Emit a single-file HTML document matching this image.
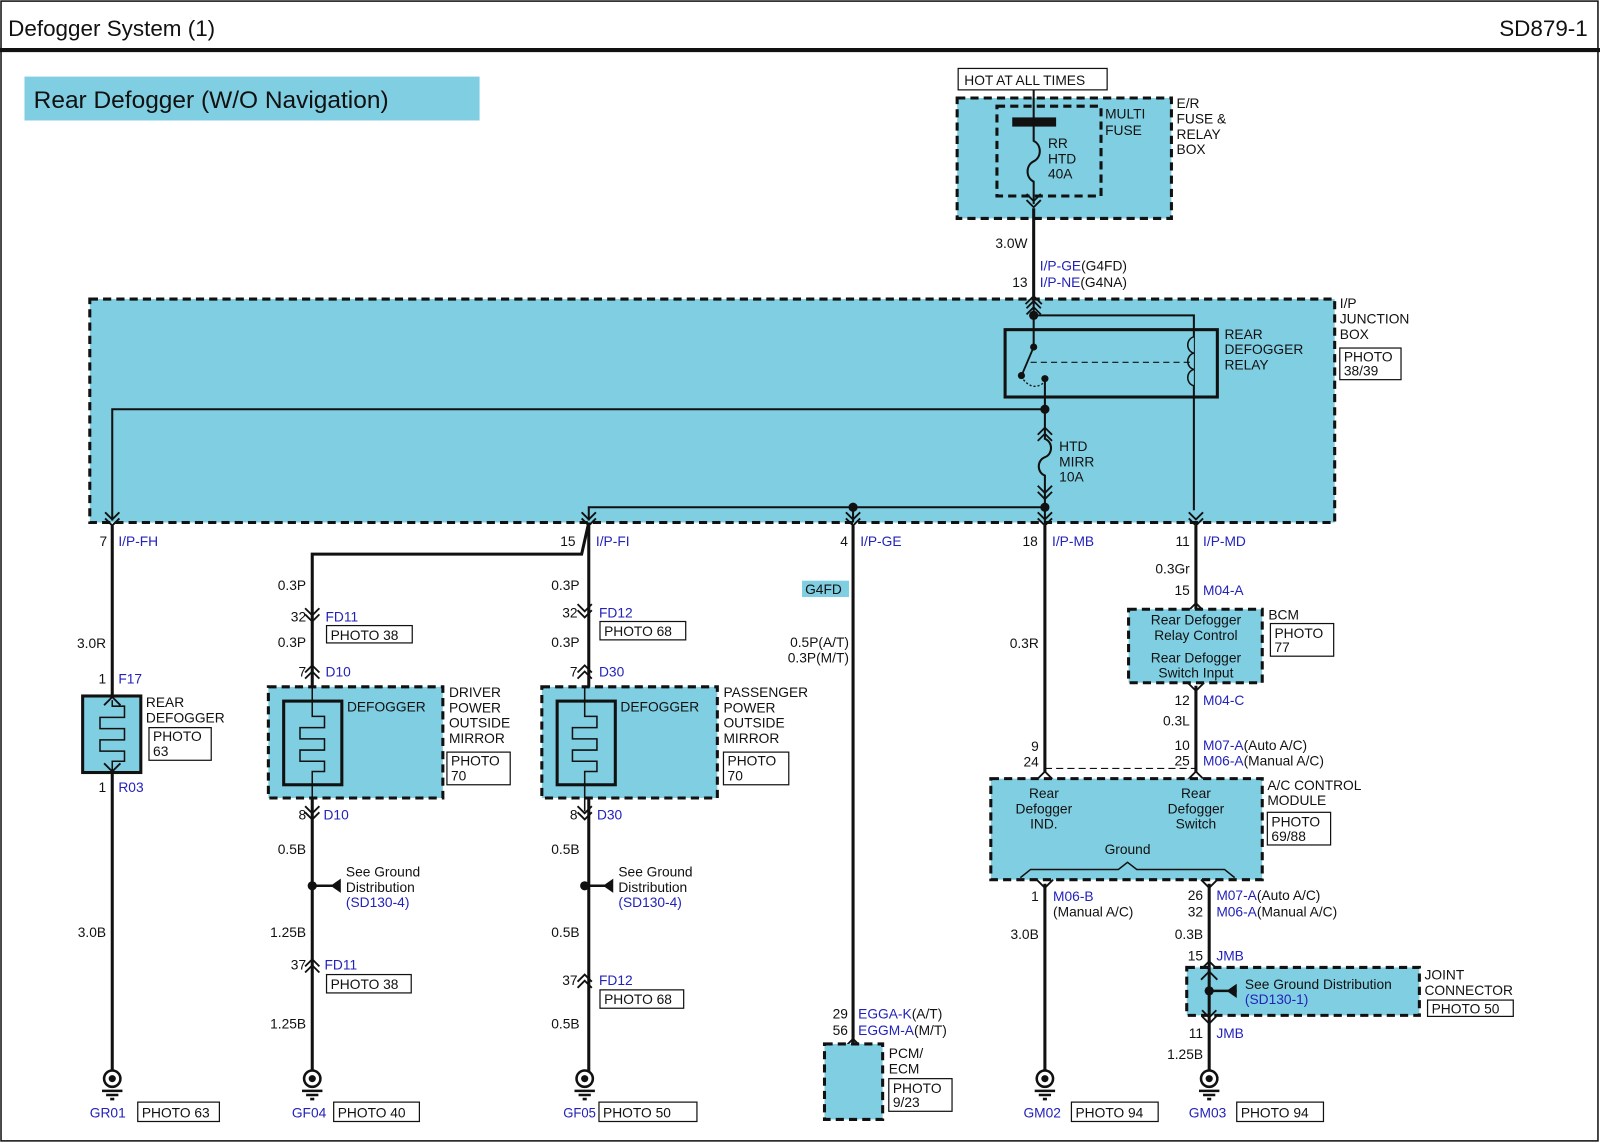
<!DOCTYPE html>
<html><head><meta charset="utf-8"><style>
html,body{margin:0;padding:0;background:#fff}
svg{display:block}
text{font-family:"Liberation Sans",sans-serif;font-size:13.5px;fill:#111}
.b{fill:#2222bb}
.w{stroke:#111;stroke-width:3;fill:none}
.t{stroke:#111;stroke-width:1.5;fill:none}
.dash{stroke:#111;stroke-width:3;stroke-dasharray:8 5;fill:#80cee1}
.box{stroke:#111;stroke-width:1.2;fill:#fff}
.e{text-anchor:end}
.m{text-anchor:middle}
</style></head><body>
<svg width="1600" height="1143" viewBox="0 0 1568 1120" xmlns="http://www.w3.org/2000/svg">
<defs>
<g id="dd"><path d="M-7,-8 L0,-1 L7,-8 M-7,-2 L0,5 L7,-2" stroke="#111" stroke-width="1.8" fill="none"/></g>
<g id="uu"><path d="M-7,8 L0,1 L7,8 M-7,2 L0,-5 L7,2" stroke="#111" stroke-width="1.8" fill="none"/></g>
<g id="su"><path d="M-8,6 L0,-2 L8,6" stroke="#111" stroke-width="1.8" fill="none"/></g>
<g id="sd"><path d="M-8,-6 L0,2 L8,-6" stroke="#111" stroke-width="1.8" fill="none"/></g>
<g id="gnd"><circle cx="0" cy="0" r="8" fill="#fff" stroke="#111" stroke-width="2.5"/><circle cx="0" cy="0" r="3.5" fill="#111"/><path d="M-10,12 H10 M-6,16 H6 M-2,20 H2" stroke="#111" stroke-width="2.5"/></g>
</defs>
<rect x="0" y="0" width="1568" height="1120" fill="#fff"/>
<rect x="1" y="1" width="1565" height="1117" fill="none" stroke="#111" stroke-width="1.5"/>
<text x="8" y="35" style="font-size:22px">Defogger System (1)</text>
<text x="1556" y="35" class="e" style="font-size:22px">SD879-1</text>
<line x1="0" y1="49" x2="1568" y2="49" stroke="#111" stroke-width="4"/>
<rect x="24" y="75" width="446" height="43" fill="#80cee1"/>
<text x="33" y="106" style="font-size:24px">Rear Defogger (W/O Navigation)</text>

<!-- E/R box -->
<rect x="939" y="67" width="146" height="21" class="box"/>
<text x="945" y="83">HOT AT ALL TIMES</text>
<rect x="938" y="96" width="210" height="118" class="dash"/>
<rect x="977" y="104" width="102" height="88" class="dash" style="fill:none"/>
<text x="1083" y="116">MULTI</text><text x="1083" y="132">FUSE</text>
<text x="1153" y="106">E/R</text><text x="1153" y="121">FUSE &amp;</text><text x="1153" y="136">RELAY</text><text x="1153" y="151">BOX</text>
<rect x="992" y="115" width="43" height="9" fill="#111"/>
<path class="t" d="M1013,88 V138 c8,4 8,16 0,20 c-8,4 -8,16 0,20 V200" style="stroke-width:2"/>
<text x="1027" y="145">RR</text><text x="1027" y="160">HTD</text><text x="1027" y="175">40A</text>
<use href="#dd" x="1013" y="198"/>
<line x1="1013" y1="204" x2="1013" y2="290" class="w"/>
<text x="1007" y="243" class="e">3.0W</text>
<text x="1019" y="265"><tspan class="b">I/P-GE</tspan>(G4FD)</text>
<text x="1007" y="281" class="e">13</text>
<text x="1019" y="281"><tspan class="b">I/P-NE</tspan>(G4NA)</text>

<!-- I/P junction box -->
<rect x="88" y="293" width="1220" height="219" class="dash"/>
<text x="1313" y="302">I/P</text><text x="1313" y="317">JUNCTION</text><text x="1313" y="332">BOX</text>
<rect x="1313" y="341" width="60" height="31" class="box"/>
<text x="1317" y="354">PHOTO</text><text x="1317" y="368">38/39</text>
<use href="#su" x="1013" y="292"/><use href="#uu" x="1013" y="300"/>
<line x1="1013" y1="296" x2="1013" y2="340" class="t" style="stroke-width:2"/>
<path class="t" d="M1013,309 H1170 V500" style="stroke-width:2"/>
<circle cx="1013" cy="309" r="4.5" fill="#111"/>
<rect x="985" y="323" width="208" height="66" fill="none" stroke="#111" stroke-width="3"/>
<text x="1200" y="332">REAR</text><text x="1200" y="347">DEFOGGER</text><text x="1200" y="362">RELAY</text>
<path d="M1170,330 c-8,2 -8,14 0,16 c-8,2 -8,14 0,16 c-8,2 -8,14 0,16" fill="#80cee1" stroke="#111" stroke-width="1.5"/>
<circle cx="1013" cy="340" r="3.5" fill="#111"/>
<line x1="1013" y1="340" x2="1002" y2="366" stroke="#111" stroke-width="1.8"/>
<circle cx="1001" cy="368" r="3.5" fill="#111"/><circle cx="1024" cy="371" r="3.5" fill="#111"/>
<path d="M1003,372 q10,12 21,2" fill="none" stroke="#111" stroke-width="1.3" stroke-dasharray="2 2"/>
<line x1="1010" y1="355" x2="1166" y2="355" stroke="#111" stroke-width="1.2" stroke-dasharray="6 4"/>
<path class="t" d="M1024,371 V430 c8,3 8,15 0,18 c-8,3 -8,15 0,18 V512" style="stroke-width:2"/>
<use href="#uu" x="1024" y="424"/><use href="#dd" x="1024" y="484"/>
<text x="1038" y="442">HTD</text><text x="1038" y="457">MIRR</text><text x="1038" y="472">10A</text>
<path class="t" d="M110,510 V401 H1024" style="stroke-width:2"/>
<circle cx="1024" cy="401" r="4.5" fill="#111"/>
<path class="t" d="M577,510 V497 H1024" style="stroke-width:2"/>
<circle cx="1024" cy="497" r="4.5" fill="#111"/>
<circle cx="836" cy="497" r="4.5" fill="#111"/>
<line x1="836" y1="497" x2="836" y2="512" class="t" style="stroke-width:2"/>

<!-- bottom connectors of J/B -->
<use href="#dd" x="110" y="510"/><use href="#dd" x="577" y="510"/><use href="#dd" x="836" y="510"/><use href="#dd" x="1024" y="510"/><use href="#dd" x="1172" y="510"/>
<text x="105" y="535" class="e">7</text><text x="116" y="535" class="b">I/P-FH</text>
<text x="564" y="535" class="e">15</text><text x="584" y="535" class="b">I/P-FI</text>
<text x="831" y="535" class="e">4</text><text x="843" y="535" class="b">I/P-GE</text>
<text x="1017" y="535" class="e">18</text><text x="1031" y="535" class="b">I/P-MB</text>
<text x="1166" y="535" class="e">11</text><text x="1179" y="535" class="b">I/P-MD</text>

<!-- column 1 -->
<line x1="110" y1="515" x2="110" y2="1050" class="w"/>
<text x="104" y="635" class="e">3.0R</text>
<text x="104" y="670" class="e">1</text><text x="116" y="670" class="b">F17</text>
<rect x="81" y="682" width="57" height="75" fill="#80cee1" stroke="#111" stroke-width="3"/>
<use href="#su" x="110" y="685"/><use href="#sd" x="110" y="754"/>
<path d="M110,686 V692 H122 V703 H98 V714 H122 V725 H98 V736 H122 V746 H110 V755" fill="none" stroke="#111" stroke-width="1.5"/>
<text x="143" y="693">REAR</text><text x="143" y="708">DEFOGGER</text>
<rect x="146" y="713" width="61" height="32" class="box"/><text x="150" y="726">PHOTO</text><text x="150" y="741">63</text>
<text x="104" y="776" class="e">1</text><text x="116" y="776" class="b">R03</text>
<text x="104" y="918" class="e">3.0B</text>
<use href="#gnd" x="110" y="1057"/>
<text x="88" y="1095" class="b">GR01</text>
<rect x="135" y="1080" width="80" height="19" class="box"/><text x="139" y="1095">PHOTO 63</text>

<!-- column 2 -->
<path class="w" d="M577,512 L570,543 H306 V1050"/>
<path class="w" d="M577,512 V1050"/>
<text x="300" y="578" class="e">0.3P</text>
<use href="#dd" x="306" y="604"/><text x="300" y="609" class="e">32</text><text x="319" y="609" class="b">FD11</text>
<rect x="320" y="613" width="84" height="17" class="box"/><text x="324" y="627">PHOTO 38</text>
<text x="300" y="634" class="e">0.3P</text>
<use href="#uu" x="306" y="657"/><text x="300" y="663" class="e">7</text><text x="319" y="663" class="b">D10</text>
<rect x="263" y="673" width="171" height="109" class="dash"/>
<rect x="278" y="687" width="57" height="82" fill="#80cee1" stroke="#111" stroke-width="3"/>
<path d="M306,672 V702 H318 V713 H294 V724 H318 V735 H294 V746 H318 V756 H306 V795" fill="none" stroke="#111" stroke-width="1.5"/>
<text x="340" y="697">DEFOGGER</text>
<text x="440" y="683">DRIVER</text><text x="440" y="698">POWER</text><text x="440" y="713">OUTSIDE</text><text x="440" y="728">MIRROR</text>
<rect x="438" y="737" width="62" height="32" class="box"/><text x="442" y="750">PHOTO</text><text x="442" y="765">70</text>
<use href="#dd" x="306" y="798"/><text x="300" y="803" class="e">8</text><text x="317" y="803" class="b">D10</text>
<text x="300" y="837" class="e">0.5B</text>
<circle cx="306" cy="868" r="4.5" fill="#111"/><line x1="306" y1="868" x2="332" y2="868" stroke="#111" stroke-width="2.5"/><path d="M324,868 L334,861 V875 Z" fill="#111"/>
<text x="339" y="859">See Ground</text><text x="339" y="874">Distribution</text><text x="339" y="889" class="b">(SD130-4)</text>
<text x="300" y="918" class="e">1.25B</text>
<use href="#uu" x="306" y="945"/><text x="300" y="950" class="e">37</text><text x="318" y="950" class="b">FD11</text>
<rect x="320" y="955" width="83" height="18" class="box"/><text x="324" y="969">PHOTO 38</text>
<text x="300" y="1008" class="e">1.25B</text>
<use href="#gnd" x="306" y="1057"/>
<text x="286" y="1095" class="b">GF04</text>
<rect x="327" y="1080" width="84" height="19" class="box"/><text x="331" y="1095">PHOTO 40</text>

<!-- column 3 -->
<text x="568" y="578" class="e">0.3P</text>
<use href="#dd" x="573" y="600"/><text x="566" y="605" class="e">32</text><text x="587" y="605" class="b">FD12</text>
<rect x="588" y="609" width="84" height="18" class="box"/><text x="592" y="623">PHOTO 68</text>
<text x="568" y="634" class="e">0.3P</text>
<use href="#uu" x="573" y="657"/><text x="566" y="663" class="e">7</text><text x="587" y="663" class="b">D30</text>
<rect x="531" y="673" width="172" height="109" class="dash"/>
<rect x="546" y="687" width="57" height="82" fill="#80cee1" stroke="#111" stroke-width="3"/>
<path d="M573,672 V702 H585 V713 H561 V724 H585 V735 H561 V746 H585 V756 H573 V795" fill="none" stroke="#111" stroke-width="1.5"/>
<text x="608" y="697">DEFOGGER</text>
<text x="709" y="683">PASSENGER</text><text x="709" y="698">POWER</text><text x="709" y="713">OUTSIDE</text><text x="709" y="728">MIRROR</text>
<rect x="709" y="737" width="64" height="32" class="box"/><text x="713" y="750">PHOTO</text><text x="713" y="765">70</text>
<use href="#dd" x="573" y="798"/><text x="566" y="803" class="e">8</text><text x="585" y="803" class="b">D30</text>
<text x="568" y="837" class="e">0.5B</text>
<circle cx="573" cy="868" r="4.5" fill="#111"/><line x1="573" y1="868" x2="599" y2="868" stroke="#111" stroke-width="2.5"/><path d="M591,868 L601,861 V875 Z" fill="#111"/>
<text x="606" y="859">See Ground</text><text x="606" y="874">Distribution</text><text x="606" y="889" class="b">(SD130-4)</text>
<text x="568" y="918" class="e">0.5B</text>
<use href="#uu" x="573" y="960"/><text x="566" y="965" class="e">37</text><text x="587" y="965" class="b">FD12</text>
<rect x="588" y="970" width="82" height="18" class="box"/><text x="592" y="984">PHOTO 68</text>
<text x="568" y="1008" class="e">0.5B</text>
<use href="#gnd" x="573" y="1057"/>
<text x="552" y="1095" class="b" textLength="32" lengthAdjust="spacingAndGlyphs">GF05</text>
<rect x="587" y="1080" width="96" height="19" class="box"/><text x="591" y="1095">PHOTO 50</text>

<!-- column 4 -->
<line x1="836" y1="515" x2="836" y2="1023" class="w"/>
<rect x="786" y="569" width="46" height="16" fill="#80cee1"/><text x="789" y="582">G4FD</text>
<text x="832" y="634" class="e">0.5P(A/T)</text><text x="832" y="649" class="e">0.3P(M/T)</text>
<text x="831" y="998" class="e">29</text><text x="841" y="998"><tspan class="b">EGGA-K</tspan>(A/T)</text>
<text x="831" y="1014" class="e">56</text><text x="841" y="1014"><tspan class="b">EGGM-A</tspan>(M/T)</text>
<use href="#su" x="836" y="1020"/>
<rect x="808" y="1023" width="57" height="74" class="dash"/>
<text x="871" y="1037">PCM/</text><text x="871" y="1052">ECM</text>
<rect x="871" y="1057" width="62" height="32" class="box"/><text x="875" y="1071">PHOTO</text><text x="875" y="1085">9/23</text>

<!-- column 5 -->
<line x1="1024" y1="515" x2="1024" y2="757" class="w"/>
<text x="1018" y="635" class="e">0.3R</text>
<text x="1018" y="736" class="e">9</text><text x="1018" y="751" class="e">24</text>
<line x1="1024" y1="753" x2="1172" y2="753" stroke="#111" stroke-width="1.2" stroke-dasharray="7 4"/>
<use href="#su" x="1024" y="758"/><use href="#su" x="1172" y="758"/>
<rect x="971" y="763" width="266" height="99" class="dash"/>
<text x="1023" y="782" class="m">Rear</text><text x="1023" y="797" class="m">Defogger</text><text x="1023" y="812" class="m">IND.</text>
<text x="1172" y="782" class="m">Rear</text><text x="1172" y="797" class="m">Defogger</text><text x="1172" y="812" class="m">Switch</text>
<text x="1105" y="837" class="m">Ground</text>
<path d="M1000,860 L1010,852 H1096 L1105,845 L1114,852 H1200 L1210,860" fill="none" stroke="#111" stroke-width="1.5"/>
<text x="1242" y="774">A/C CONTROL</text><text x="1242" y="789">MODULE</text>
<rect x="1242" y="796" width="62" height="32" class="box"/><text x="1246" y="810">PHOTO</text><text x="1246" y="824">69/88</text>
<use href="#sd" x="1024" y="868"/><use href="#sd" x="1185" y="868"/>
<line x1="1024" y1="866" x2="1024" y2="1050" class="w"/>
<text x="1018" y="883" class="e">1</text><text x="1032" y="883" class="b">M06-B</text><text x="1032" y="898">(Manual A/C)</text>
<text x="1018" y="920" class="e">3.0B</text>
<use href="#gnd" x="1024" y="1057"/>
<text x="1003" y="1095" class="b">GM02</text>
<rect x="1050" y="1080" width="85" height="19" class="box"/><text x="1054" y="1095">PHOTO 94</text>

<!-- column 6 -->
<line x1="1172" y1="515" x2="1172" y2="597" class="w"/>
<text x="1166" y="562" class="e">0.3Gr</text>
<text x="1166" y="583" class="e">15</text><text x="1179" y="583" class="b">M04-A</text>
<use href="#su" x="1172" y="593"/>
<rect x="1106" y="597" width="131" height="72" class="dash"/>
<text x="1172" y="612" class="m">Rear Defogger</text><text x="1172" y="627" class="m">Relay Control</text>
<text x="1172" y="649" class="m">Rear Defogger</text><text x="1172" y="664" class="m">Switch Input</text>
<text x="1243" y="607">BCM</text>
<rect x="1245" y="611" width="62" height="32" class="box"/><text x="1249" y="625">PHOTO</text><text x="1249" y="639">77</text>
<use href="#sd" x="1172" y="675"/>
<line x1="1172" y1="672" x2="1172" y2="757" class="w"/>
<text x="1166" y="691" class="e">12</text><text x="1179" y="691" class="b">M04-C</text>
<text x="1166" y="711" class="e">0.3L</text>
<text x="1166" y="735" class="e">10</text><text x="1179" y="735"><tspan class="b">M07-A</tspan>(Auto A/C)</text>
<text x="1166" y="750" class="e">25</text><text x="1179" y="750"><tspan class="b">M06-A</tspan>(Manual A/C)</text>
<line x1="1185" y1="866" x2="1185" y2="1050" class="w"/>
<text x="1179" y="882" class="e">26</text><text x="1192" y="882"><tspan class="b">M07-A</tspan>(Auto A/C)</text>
<text x="1179" y="898" class="e">32</text><text x="1192" y="898"><tspan class="b">M06-A</tspan>(Manual A/C)</text>
<text x="1179" y="920" class="e">0.3B</text>
<text x="1179" y="941" class="e">15</text><text x="1192" y="941" class="b">JMB</text>
<use href="#su" x="1185" y="944"/>
<rect x="1163" y="948" width="228" height="47" class="dash"/>
<use href="#su" x="1185" y="954"/>
<line x1="1185" y1="948" x2="1185" y2="995" class="w"/>
<circle cx="1185" cy="971" r="4.5" fill="#111"/><line x1="1185" y1="971" x2="1212" y2="971" stroke="#111" stroke-width="2.5"/><path d="M1202,971 L1212,964 V978 Z" fill="#111"/>
<text x="1220" y="969">See Ground Distribution</text><text x="1220" y="984" class="b">(SD130-1)</text>
<text x="1396" y="960">JOINT</text><text x="1396" y="975">CONNECTOR</text>
<rect x="1399" y="980" width="84" height="16" class="box"/><text x="1403" y="993">PHOTO 50</text>
<use href="#dd" x="1185" y="998"/>
<text x="1179" y="1017" class="e">11</text><text x="1192" y="1017" class="b">JMB</text>
<text x="1179" y="1038" class="e">1.25B</text>
<use href="#gnd" x="1185" y="1057"/>
<text x="1165" y="1095" class="b">GM03</text>
<rect x="1212" y="1080" width="85" height="19" class="box"/><text x="1216" y="1095">PHOTO 94</text>
</svg>
</body></html>
